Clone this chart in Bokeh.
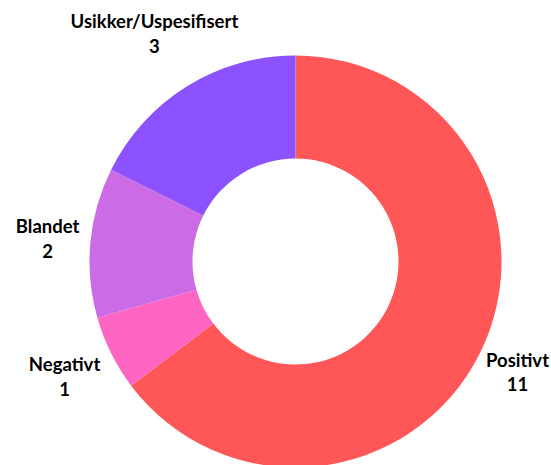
import numpy as np
from bokeh.plotting import figure
from bokeh.models import Range1d, ColumnDataSource
from bokeh.core.properties import value
from bokeh.embed import file_html
from bokeh.resources import INLINE

categories = ["Positivt", "Negativt", "Blandet", "Usikker/Uspesifisert"]
counts = [11, 1, 2, 3]
colors = ["#FF5757", "#FF66C4", "#CB6CE6", "#8C52FF"]

# layout: donut radii and per-label distance from centre (pixels)
R_OUT, R_IN = 206, 103
label_r = [248, 258, 249, 268]

vals = np.array(counts, dtype=float)
frac = vals / vals.sum()
cum_end = np.cumsum(frac) * 2 * np.pi
cum_start = cum_end - frac * 2 * np.pi
start = np.pi / 2 - cum_start
end = np.pi / 2 - cum_end
mid = (cum_start + cum_end) / 2
lr = np.array(label_r, dtype=float)

src = ColumnDataSource(dict(start=start, end=end, color=colors,
                            x=[0] * len(counts), y=[0] * len(counts)))
lab = ColumnDataSource(dict(
    x=lr * np.sin(mid), y=lr * np.cos(mid),
    text=[f"{c}\n{n}" for c, n in zip(categories, counts)]))

p = figure(width=551, height=465, output_backend="svg", toolbar_location=None,
           x_range=Range1d(-295, 256), y_range=Range1d(-204, 261),
           min_border=0, outline_line_color=None)
p.axis.visible = False
p.grid.visible = False
p.background_fill_color = "white"

p.annular_wedge(x="x", y="y", inner_radius=R_IN, outer_radius=R_OUT,
                start_angle="start", end_angle="end", direction="clock",
                fill_color="color", line_color=None, source=src)
p.text(x="x", y="y", text="text", source=lab, text_align="center",
       text_baseline="middle", text_font=value("Lato"), text_font_style="bold",
       text_font_size="18.5px", text_color="#000000", text_line_height=1.12)

open("out.html", "w").write(file_html(p, INLINE))
